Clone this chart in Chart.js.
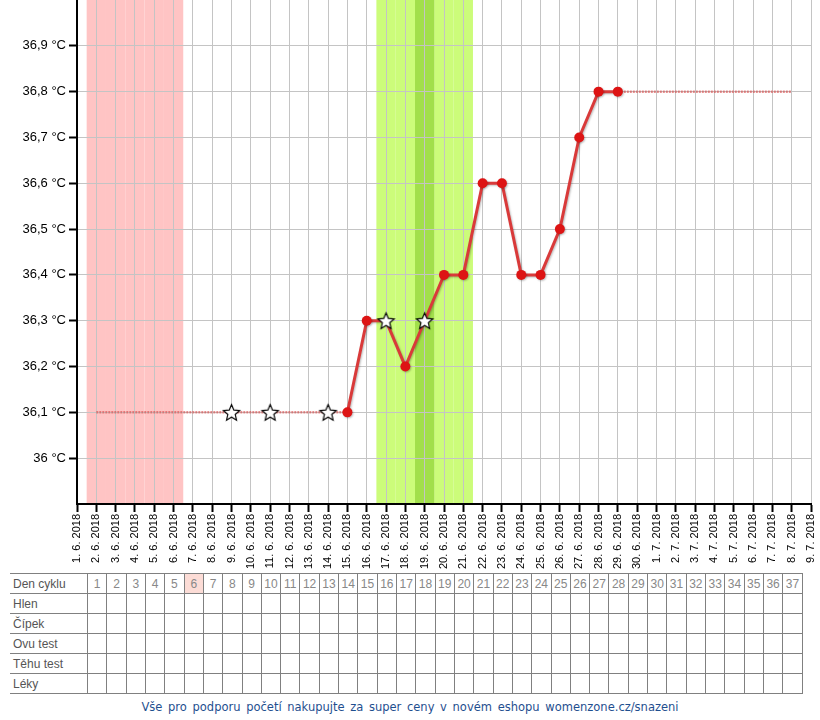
<!DOCTYPE html>
<html>
<head>
<meta charset="utf-8">
<script src="https://cdn.jsdelivr.net/npm/chart.js@4/dist/chart.umd.min.js"></script>
<style>
  html, body { margin: 0; padding: 0; background: #fff; width: 820px; height: 720px; overflow: hidden; }
  #wrap { position: relative; width: 820px; height: 720px; }
  #c { position: absolute; left: 0; top: 0; display: block; }
  #tbl { position: absolute; left: 10px; top: 573px; border-collapse: collapse; table-layout: fixed;
         font-family: "Liberation Sans", Arial, sans-serif; font-size: 12px; color: #666; }
  #tbl td { border: 1px solid #808080; height: 19px; padding: 0; width: 18.32px; text-align: center; color: #888; }
  #tbl td.lab { width: 74px; text-align: left; padding-left: 3px; border-left: none; color: #555; }
  #tbl td.hl { background: #fcdcd6; }
  #foot { position: absolute; left: 0; width: 820px; top: 700px; text-align: center;
          font-family: "DejaVu Sans", Verdana, sans-serif; font-size: 11.5px; color: #1f4f8f; word-spacing: 2px; }
</style>
</head>
<body>
<div id="wrap">
  <canvas id="c" width="820" height="570"></canvas>
  <table id="tbl"></table>
  <div id="foot">Vše pro podporu početí nakupujte za super ceny v novém eshopu womenzone.cz/snazeni</div>
</div>
<script>
// ---- data ----
const dateLabels = [
  '1. 6. 2018','2. 6. 2018','3. 6. 2018','4. 6. 2018','5. 6. 2018','6. 6. 2018','7. 6. 2018','8. 6. 2018',
  '9. 6. 2018','10. 6. 2018','11. 6. 2018','12. 6. 2018','13. 6. 2018','14. 6. 2018','15. 6. 2018',
  '16. 6. 2018','17. 6. 2018','18. 6. 2018','19. 6. 2018','20. 6. 2018','21. 6. 2018','22. 6. 2018',
  '23. 6. 2018','24. 6. 2018','25. 6. 2018','26. 6. 2018','27. 6. 2018','28. 6. 2018','29. 6. 2018',
  '30. 6. 2018','1. 7. 2018','2. 7. 2018','3. 7. 2018','4. 7. 2018','5. 7. 2018','6. 7. 2018',
  '7. 7. 2018','8. 7. 2018','9. 7. 2018'
];
const temperatures = [
  null, null, null, null, null, null, null, null, null, null, null, null, null, null,
  36.1, 36.3, 36.3, 36.2, 36.3, 36.4, 36.4, 36.6, 36.6, 36.4, 36.4, 36.5, 36.7, 36.8, 36.8,
  null, null, null, null, null, null, null, null, null, null
];
const estimatedLine = [
  null, 36.1, 36.1, 36.1, 36.1, 36.1, 36.1, 36.1, 36.1, 36.1, 36.1, 36.1, 36.1, 36.1, 36.1,
  null, null, null, null, null, null, null, null, null, null, null, null, null,
  36.8, 36.8, 36.8, 36.8, 36.8, 36.8, 36.8, 36.8, 36.8, 36.8, null
];
const starMarks = [
  null, null, null, null, null, null, null, null, 36.1, null, 36.1, null, null, 36.1, null,
  null, 36.3, null, 36.3, null, null, null, null, null, null, null, null, null, null,
  null, null, null, null, null, null, null, null, null, null
];
const periodDays = ['2. 6. 2018','3. 6. 2018','4. 6. 2018','5. 6. 2018','6. 6. 2018'];
const fertileDays = ['17. 6. 2018','18. 6. 2018','19. 6. 2018','20. 6. 2018','21. 6. 2018'];
const ovulationDays = ['19. 6. 2018'];
const yMin = 35.9, yMax = 37.0;
const cycleDays = [1,2,3,4,5,6,7,8,9,10,11,12,13,14,15,16,17,18,19,20,21,22,23,24,25,26,27,28,29,30,31,32,33,34,35,36,37];
const highlightedCycleDay = 6;
const tableRows = ['Den cyklu','Hlen','Čípek','Ovu test','Těhu test','Léky'];

// ---- star point image ----
function makeStar(r) {
  const s = document.createElement('canvas');
  const size = Math.ceil(r * 2 + 4);
  s.width = size; s.height = size;
  const g = s.getContext('2d');
  const cx = size / 2, cy = size / 2 + 0.8;
  g.beginPath();
  for (let i = 0; i < 10; i++) {
    const rad = i % 2 === 0 ? r : r * 0.46;
    const a = -Math.PI / 2 + i * Math.PI / 5;
    const x = cx + rad * Math.cos(a), y = cy + rad * Math.sin(a);
    if (i === 0) g.moveTo(x, y); else g.lineTo(x, y);
  }
  g.closePath();
  g.fillStyle = '#fff';
  g.fill();
  g.lineWidth = 1.2;
  g.strokeStyle = '#000';
  g.stroke();
  return s;
}
const starImg = makeStar(8.5);

// ---- bands plugin (drawn beneath the grid) ----
const bandsPlugin = {
  id: 'bands',
  beforeDraw(chart) {
    const { ctx, chartArea, scales } = chart;
    const x = scales.x;
    const drawSet = (days, color) => {
      ctx.fillStyle = color;
      days.forEach(d => {
        const i = dateLabels.indexOf(d);
        const l = x.getPixelForValue(i - 0.5);
        const r = x.getPixelForValue(i + 0.5);
        ctx.fillRect(l, chartArea.top, r - l, chartArea.bottom - chartArea.top);
      });
    };
    ctx.save();
    drawSet(periodDays, '#ffc4c4');
    drawSet(fertileDays, '#ccfc7a');
    drawSet(ovulationDays, '#a2df4b');
    ctx.restore();
  }
};
const shadowPlugin = {
  id: 'lineShadow',
  beforeDatasetDraw(chart, args) {
    if (args.index === 1) {
      const ctx = chart.ctx;
      ctx.save();
      ctx.shadowColor = 'rgba(0,0,0,0.25)';
      ctx.shadowBlur = 2;
      ctx.shadowOffsetX = 1;
      ctx.shadowOffsetY = 1;
    }
  },
  afterDatasetDraw(chart, args) {
    if (args.index === 1) chart.ctx.restore();
  }
};

const labelFont = { family: '"Liberation Sans", Arial, sans-serif' };

new Chart(document.getElementById('c'), {
  type: 'line',
  data: {
    labels: dateLabels,
    datasets: [
      {
        label: 'stars',
        data: starMarks,
        showLine: false,
        pointStyle: starImg,
        pointRadius: 8,
        pointHoverRadius: 8,
        order: 0
      },
      {
        label: 'temp',
        data: temperatures,
        borderColor: '#d93a3a',
        borderWidth: 3,
        pointBackgroundColor: '#dd1414',
        pointBorderWidth: 0,
        pointRadius: ctx => (starMarks[ctx.dataIndex] != null ? 0 : 5),
        tension: 0,
        order: 1
      },
      {
        label: 'est',
        data: estimatedLine,
        borderColor: 'rgba(215,70,70,0.6)',
        borderWidth: 2.5,
        borderDash: [2, 1],
        pointRadius: 0,
        tension: 0,
        order: 2
      }
    ]
  },
  options: {
    responsive: false,
    animation: false,
    events: [],
    layout: { autoPadding: false, padding: { top: 0, right: 9, bottom: 0, left: 0 } },
    plugins: { legend: { display: false }, tooltip: { enabled: false } },
    scales: {
      x: {
        type: 'category',
        offset: false,
        grid: { color: '#c4c4c4', lineWidth: 1, offset: false, tickColor: '#000', tickLength: 8, tickWidth: 2 },
        border: { color: '#000', width: 2 },
        ticks: {
          autoSkip: false, minRotation: 90, maxRotation: 90, padding: 2,
          color: '#000', font: { ...labelFont, size: 11 }
        },
        afterFit(scale) {
          scale.height = 66;
          scale.paddingLeft = 0; scale.paddingRight = 0;
        }
      },
      y: {
        min: yMin, max: yMax,
        grid: { color: '#c4c4c4', lineWidth: 1, tickColor: '#000', tickLength: 8, tickWidth: 2 },
        border: { color: '#000', width: 2 },
        ticks: {
          stepSize: 0.1, padding: 3, color: '#000', font: { ...labelFont, size: 13 },
          callback(value) {
            const v = Math.round(value * 10);
            if (v <= Math.round(yMin * 10) || v >= Math.round(yMax * 10)) return null;
            const s = (v % 10 === 0) ? String(v / 10) : (v / 10).toFixed(1).replace('.', ',');
            return s + ' °C';
          }
        },
        afterFit(scale) {
          scale.width = 77;
          scale.paddingTop = 0; scale.paddingBottom = 0;
        }
      }
    }
  },
  plugins: [bandsPlugin, shadowPlugin]
});

// ---- table below ----
const tbl = document.getElementById('tbl');
tableRows.forEach((name, r) => {
  const tr = document.createElement('tr');
  const th = document.createElement('td');
  th.className = 'lab';
  th.textContent = name;
  tr.appendChild(th);
  cycleDays.forEach(d => {
    const td = document.createElement('td');
    if (r === 0) {
      td.textContent = d;
      if (d === highlightedCycleDay) td.className = 'hl';
    }
    tr.appendChild(td);
  });
  tbl.appendChild(tr);
});
</script>
</body>
</html>
